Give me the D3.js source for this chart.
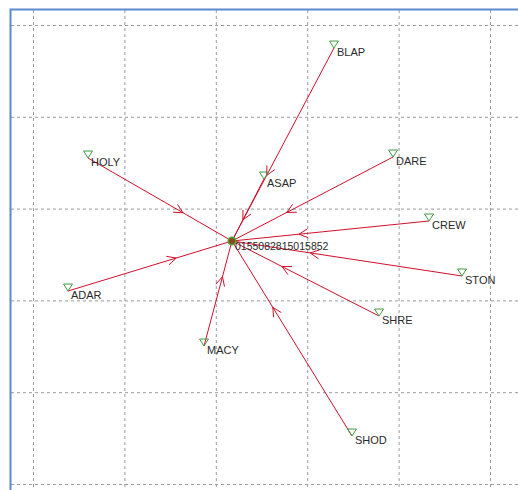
<!DOCTYPE html>
<html><head><meta charset="utf-8">
<script src="https://cdn.jsdelivr.net/npm/d3@7"></script>
<style>body{margin:0;background:#fff}svg{display:block}</style>
</head><body><svg id="c" width="518" height="490"></svg>
<script>
// Station data (grid units: x east, y down)
const stationNames = ["BLAP","HOLY","DARE","ASAP","CREW","STON","SHRE","ADAR","MACY","SHOD"];
const stationX = [3.293, 0.602, 3.939, 2.527, 4.333, 4.694, 3.786, 0.383, 1.871, 3.490];
const stationY = [0.251, 1.449, 1.438, 1.678, 2.135, 2.734, 3.170, 2.898, 3.497, 4.477];
const eventName = "0155082815015852";
const eventX = [2.177];
const eventY = [2.353];
const gridX = [0,1,2,3,4,5];
const gridY = [0,1,2,3,4,5];

const W = 518, H = 490;
const svg = d3.select("#c");
const x = d3.scaleLinear().domain([0,5]).range([33,490]);
const y = d3.scaleLinear().domain([0,5]).range([25,484]);

const gridStyle = g => {
  g.select(".domain").remove();
  g.selectAll("line").attr("stroke","#9a9a9a").attr("stroke-dasharray","3,3").attr("stroke-width",1);
  g.selectAll("text").remove();
};
svg.append("g").attr("transform","translate(0,10)")
  .call(d3.axisTop(x).tickValues(gridX).tickSize(-(H-10)).tickFormat(""))
  .call(gridStyle);
svg.append("g").attr("transform","translate(11,0)")
  .call(d3.axisLeft(y).tickValues(gridY).tickSize(-(W-11)).tickFormat(""))
  .call(gridStyle);

// border
svg.append("path").attr("d",`M10.5,${H} L10.5,9.5 L${W},9.5`)
  .attr("fill","none").attr("stroke","#5b8ad0").attr("stroke-width",2);

const stations = stationNames.map((n,i)=>({name:n, x:stationX[i], y:stationY[i]}));
const ev = {x:eventX[0], y:eventY[0]};
const lineColor = "#d0102a";

svg.append("g").selectAll("line").data(stations).join("line")
  .attr("x1",d=>x(d.x)).attr("y1",d=>y(d.y))
  .attr("x2",x(ev.x)).attr("y2",y(ev.y))
  .attr("stroke",lineColor).attr("stroke-width",1);

// chevrons
svg.append("g").selectAll("path").data(stations).join("path")
  .attr("d",d=>{
    const sx=x(d.x), sy=y(d.y), ex=x(ev.x), ey=y(ev.y);
    const dx=ex-sx, dy=ey-sy, L=Math.hypot(dx,dy);
    const ux=dx/L, uy=dy/L;
    const tx=sx+dx*0.66, ty=sy+dy*0.66;
    const bx=tx-ux*9, by=ty-uy*9;
    const px=-uy*4.5, py=ux*4.5;
    return `M${bx+px},${by+py} L${tx},${ty} L${bx-px},${by-py}`;
  })
  .attr("fill","none").attr("stroke",lineColor).attr("stroke-width",1);

// station triangles
svg.append("g").selectAll("path").data(stations).join("path")
  .attr("d",d=>{const sx=x(d.x), sy=y(d.y); return `M${sx},${sy} L${sx-4.5},${sy-7} L${sx+4.5},${sy-7} Z`;})
  .attr("fill","none").attr("stroke","#3f9a3f").attr("stroke-width",1);

svg.append("g").selectAll("text").data(stations).join("text")
  .attr("x",d=>x(d.x)+3).attr("y",d=>y(d.y)+8)
  .text(d=>d.name)
  .attr("font-family","Liberation Sans, Arial, sans-serif").attr("font-size","11px").attr("fill","#2a2a2a");

// event
svg.append("circle").attr("cx",x(ev.x)).attr("cy",y(ev.y)).attr("r",3.8)
  .attr("fill","#8a4a1c").attr("stroke","#4aa83a").attr("stroke-width",1.4);
svg.append("text").attr("x",x(ev.x)+3).attr("y",y(ev.y)+9).text(eventName)
  .attr("font-family","Liberation Sans, Arial, sans-serif").attr("font-size","10.5px").attr("fill","#2a2a2a");
</script></body></html>
